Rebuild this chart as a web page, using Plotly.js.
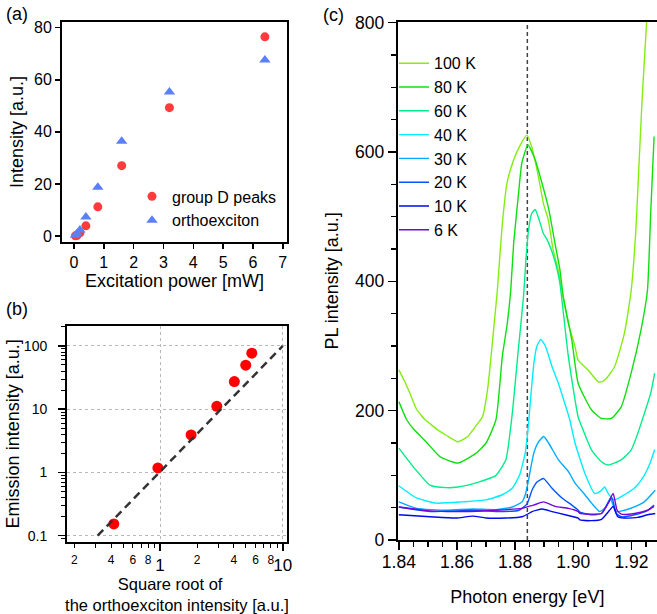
<!DOCTYPE html>
<html>
<head>
<meta charset="utf-8">
<script src="https://cdn.plot.ly/plotly-3.0.1.min.js"></script>
<style>html,body{margin:0;padding:0;background:#fff;overflow:hidden}#chart{width:657px;height:614px}</style>
</head>
<body>
<div id="chart"></div>
<script>
// ---------- Panel (a) ----------
const powerD = [0.05, 0.1, 0.2, 0.4, 0.8, 1.6, 3.2, 6.4];
const intensityD = [0.05, 0.16, 1.2, 3.9, 11.2, 27, 49.3, 76.5];
const powerO = [0.05, 0.1, 0.2, 0.4, 0.8, 1.6, 3.2, 6.4];
const intensityO = [0.3, 0.9, 2.3, 7.3, 18.7, 36.4, 55.3, 67.6];

// ---------- Panel (b) ----------
const sqrtOrtho = [0.42, 0.96, 1.79, 2.9, 4.03, 4.99, 5.59];
const emission = [0.153, 1.18, 3.92, 11.1, 27.4, 49.6, 76.9];
const fitX = [0.31, 10];
const fitY = [0.1, 100];
const bMinorVals = [0.2,0.3,0.4,0.5,0.6,0.7,0.8,0.9,2,3,4,5,6,7,8,9];
const bSmallVals = [0.2,0.4,0.6,0.8,2,4,6,8];
const bSmallText = ['2','4','6','8','2','4','6','8'];
const bYMinor = [0.09,0.2,0.3,0.4,0.5,0.6,0.7,0.8,0.9,2,3,4,5,6,7,8,9,20,30,40,50,60,70,80,90,200];

// ---------- Panel (c) ----------
const e100 = [1.840,1.842,1.8438,1.846,1.849,1.8507,1.8535,1.8563,1.8603,1.8637,1.8671,1.8688,1.8705,1.8717,1.8728,1.8739,1.8755,1.8772,1.8795,1.8818,1.884,1.8857,1.888,1.8897,1.8914,1.8931,1.8948,1.8965,1.8983,1.9006,1.9017,1.9051,1.9085,1.910,1.9114,1.9142,1.9176,1.9199,1.9215,1.9226,1.9237,1.9252,1.9258];
const i100 = [263,245,227,203,186,180,170,162,152,160,180,191,232,283,335,387,484,552,588,611,626,608,562,521,495,448,418,375,335,299,278,263,245,245,250,268,320,385,477,580,683,799,850];
const e80 = [1.840,1.8427,1.845,1.850,1.8541,1.8603,1.8665,1.870,1.8734,1.8756,1.8773,1.8785,1.8795,1.8812,1.8823,1.8844,1.8869,1.8891,1.8914,1.8937,1.8954,1.8965,1.8995,1.9017,1.9063,1.9097,1.9131,1.9165,1.9199,1.9233,1.9255,1.9266,1.9278];
const i80 = [214,186,172,149,129,119,134,150,186,284,335,387,459,537,583,611,588,554,515,459,418,378,309,242,201,188,188,206,258,325,385,502,624];
const e60 = [1.840,1.845,1.8507,1.8563,1.8603,1.8677,1.8734,1.8768,1.879,1.881,1.8829,1.8837,1.8846,1.8857,1.8869,1.8886,1.8897,1.8908,1.8925,1.8942,1.8954,1.8983,1.9017,1.9034,1.9063,1.9097,1.912,1.9165,1.9199,1.9222,1.9244,1.9267,1.928];
const i60 = [142,113,85,81,82,90,100,124,195,290,377,433,479,505,511,490,474,466,448,423,397,284,190,170,139,121,116,124,139,165,195,228,258];
const e40 = [1.840,1.8461,1.8529,1.862,1.870,1.8756,1.879,1.8815,1.8835,1.8845,1.8855,1.8865,1.8875,1.8888,1.8904,1.8927,1.8949,1.8971,1.8988,1.9006,1.904,1.9074,1.9095,1.9108,1.912,1.914,1.9176,1.9214,1.9244,1.9265,1.928];
const i40 = [84,65,57,59,62,70,80,100,135,175,228,275,300,310,300,268,242,211,186,150,103,72,76,82,72,62,70,82,100,120,140];
const e30 = [1.840,1.8461,1.8563,1.8654,1.8734,1.879,1.8824,1.8836,1.8847,1.8864,1.8881,1.8898,1.8915,1.8949,1.8983,1.9006,1.904,1.9063,1.9091,1.911,1.9127,1.9148,1.9176,1.9214,1.9244,1.9282];
const i30 = [59,49,46,48,47,51,59,72,95,134,152,160,150,124,106,88,70,57,44,50,64,44,46,52,59,77];
const e20 = [1.840,1.8507,1.8654,1.8734,1.8813,1.8841,1.8858,1.8876,1.8898,1.8927,1.8961,1.8995,1.9017,1.9023,1.9063,1.9097,1.912,1.9133,1.9148,1.9165,1.9211,1.9256,1.9278];
const i20 = [51,44,46,44,46,56,77,90,95,80,65,54,46,43,39,41,57,65,41,36,39,46,54];
const e10 = [1.840,1.8507,1.8597,1.8654,1.870,1.8768,1.8824,1.8847,1.8858,1.8893,1.8927,1.8972,1.9017,1.9023,1.9063,1.9097,1.9125,1.9137,1.9153,1.9176,1.9222,1.9256,1.9282];
const i10 = [39,36,34,37,34,34,36,41,44,48,44,39,34,31,30,32,46,52,36,34,35,39,41];
const e6 = [1.840,1.8507,1.862,1.8734,1.8824,1.8847,1.8864,1.8898,1.8938,1.8983,1.9017,1.9023,1.9063,1.9097,1.912,1.9137,1.9151,1.9165,1.9211,1.9256,1.9278];
const i6 = [51,45,44,46,49,52,54,59,52,49,44,41,40,41,57,72,46,40,41,46,52];
const tempLabels = ['100 K','80 K','60 K','40 K','30 K','20 K','10 K','6 K'];
const tempColors = ['#84ee10','#10e010','#00ee88','#00eeff','#00aaff','#0055ff','#0008ee','#7a00dd'];
const energies = [e100,e80,e60,e40,e30,e20,e10,e6];
const intensities = [i100,i80,i60,i40,i30,i20,i10,i6];
const markerEnergy = [1.8842, 1.8842];
const markerSpan = [0, 801.5];

const FONT = 'Liberation Sans, Arial, Helvetica, sans-serif';
const SP = '\u00A0';
const traces = [];

traces.push({x: powerD, y: intensityD, xaxis:'x', yaxis:'y', type:'scatter', mode:'markers', name:'group D peaks',
  marker:{symbol:'circle', size:9, color:'#ff3b3b'}, legend:'legend'});
traces.push({x: powerO, y: intensityO, xaxis:'x', yaxis:'y', type:'scatter', mode:'markers', name:'orthoexciton',
  marker:{symbol:'triangle-up', size:10, color:'#5b80f5'}, legend:'legend'});

traces.push({x: fitX, y: fitY, xaxis:'x4', yaxis:'y2', type:'scatter', mode:'lines', showlegend:false,
  line:{color:'#333', width:2.5, dash:'8px,5px'}});
traces.push({x: sqrtOrtho, y: emission, xaxis:'x2', yaxis:'y2', type:'scatter', mode:'markers', showlegend:false,
  marker:{symbol:'circle', size:11, color:'#ff0000'}});

traces.push({x: markerEnergy, y: markerSpan, xaxis:'x3', yaxis:'y3', type:'scatter', mode:'lines', showlegend:false,
  line:{color:'#444', width:1.5, dash:'4px,3px'}});
for (let k = 0; k < tempLabels.length; k++) {
  traces.push({x: energies[k], y: intensities[k], xaxis:'x3', yaxis:'y3', type:'scatter', mode:'lines',
    name: tempLabels[k], legend:'legend2', line:{color: tempColors[k], width:1.4, shape:'spline', smoothing:0.5}});
}

const axisBase = {ticks:'outside', tickcolor:'black', tickwidth:1.5, showline:true, linewidth:2, linecolor:'black',
  showgrid:false, zeroline:false, tickfont:{size:16}};

const layout = {
  width:657, height:614, margin:{l:0,r:0,t:0,b:0},
  paper_bgcolor:'white', plot_bgcolor:'white',
  font:{family:FONT, size:16, color:'black'},
  xaxis: Object.assign({}, axisBase, {domain:[0.0944,0.4368], anchor:'y', range:[-0.4,7.14], tickmode:'linear', tick0:0, dtick:1,
    ticklen:5, mirror:true, title:{text: SP+SP+'Excitation power [mW]', font:{size:18}, standoff:3}}),
  yaxis: Object.assign({}, axisBase, {domain:[0.6059,0.9642], anchor:'x', range:[-2.3,82.2], tickmode:'linear', tick0:0, dtick:20,
    ticklen:5, mirror:true, title:{text: SP+SP+SP+'Intensity [a.u.]', font:{size:18}, standoff:6}}),
  xaxis2: Object.assign({}, axisBase, {domain:[0.102,0.4368], anchor:'y2', type:'log', range:[-0.758,1.034],
    tickvals:[1,10], ticktext:['1','10'], ticklen:7, tickfont:{size:17}, mirror:true,
    showgrid:true, gridcolor:'#b8b8b8', griddash:'dot', gridwidth:1,
    minor:{tickvals:bMinorVals, ticks:'outside', ticklen:4, tickcolor:'black', tickwidth:1, showgrid:false},
    title:{text:'Square root of'+SP+SP+SP+'<br>the orthoexciton intensity [a.u.]', font:{size:16.5}, standoff:6}}),
  xaxis4: {overlaying:'x2', anchor:'y2', side:'bottom', type:'log', range:[-0.758,1.034], tickvals:bSmallVals, ticktext:bSmallText,
    ticks:'outside', ticklen:7, tickcolor:'rgba(0,0,0,0)', tickfont:{size:12}, showline:false, showgrid:false, zeroline:false},
  yaxis2: Object.assign({}, axisBase, {domain:[0.1173,0.4695], anchor:'x2', type:'log', range:[-1.1,2.32],
    tickvals:[0.1,1,10,100], ticktext:['0.1','1','10','100'], ticklen:7, ticklabelstandoff:8, tickfont:{size:14}, mirror:true,
    showgrid:true, gridcolor:'#b8b8b8', griddash:'dot', gridwidth:1,
    minor:{tickvals:bYMinor, ticks:'outside', ticklen:4, tickcolor:'black', tickwidth:1, showgrid:false},
    title:{text: SP+SP+'Emission intensity [a.u.]', font:{size:18}, standoff:0}}),
  xaxis3: Object.assign({}, axisBase, {domain:[0.6053,1], anchor:'y3', range:[1.8396,1.9288], tickmode:'linear', tick0:1.84, dtick:0.02,
    tickformat:'.2f', ticklen:8, ticklabelstandoff:-3, tickfont:{size:17.5}, mirror:true,
    minor:{dtick:0.005, tick0:1.84, ticks:'outside', ticklen:5, tickcolor:'black', tickwidth:1.5, showgrid:false},
    title:{text:'Photon energy [eV]'+SP+SP+SP+SP, font:{size:18}, standoff:19}}),
  yaxis3: Object.assign({}, axisBase, {domain:[0.1205,0.9647], anchor:'x3', range:[0,801.5], tickmode:'linear', tick0:0, dtick:200,
    ticklen:8, tickfont:{size:17.5},
    minor:{dtick:50, tick0:0, ticks:'outside', ticklen:5, tickcolor:'black', tickwidth:1.5, showgrid:false},
    title:{text:'PL intensity [a.u.]'+SP+SP, font:{size:18}, standoff:12}}),
  legend: {x:0.2009, y:0.7077, xanchor:'left', yanchor:'top', bgcolor:'rgba(0,0,0,0)', borderwidth:0,
    font:{size:16}, itemwidth:30, tracegroupgap:0},
  legend2: {x:0.5997, y:0.9246, xanchor:'left', yanchor:'top', bgcolor:'rgba(0,0,0,0)', borderwidth:0,
    font:{size:16}, itemwidth:30, tracegroupgap:0},
  annotations: [
    {text:'(a)', xref:'paper', yref:'paper', x:0.006, y:0.978, xanchor:'left', yanchor:'middle', showarrow:false, font:{size:18}},
    {text:'(b)', xref:'paper', yref:'paper', x:0.006, y:0.496, xanchor:'left', yanchor:'middle', showarrow:false, font:{size:18}},
    {text:'(c)', xref:'paper', yref:'paper', x:0.489, y:0.976, xanchor:'left', yanchor:'middle', showarrow:false, font:{size:18}}
  ]
};

Plotly.newPlot('chart', traces, layout, {staticPlot:true, displayModeBar:false});
</script>
</body>
</html>
